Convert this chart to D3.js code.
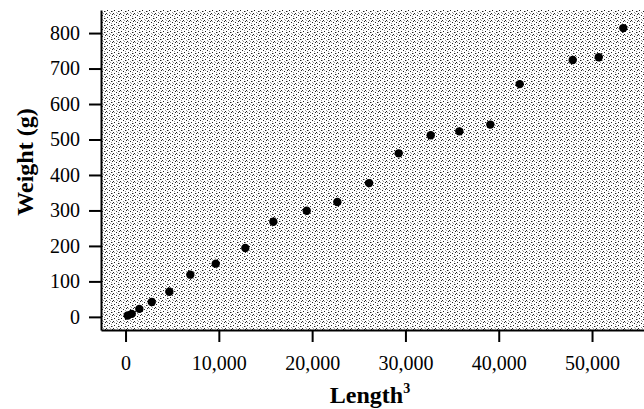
<!DOCTYPE html>
<html>
<head>
<meta charset="utf-8">
<style>
  body { margin: 0; background: #ffffff; }
  text { font-family: "Liberation Serif", "DejaVu Serif", serif; fill: #000000; }
  .tick text { font-size: 20px; }
  .axislabel { font-size: 24px; font-weight: bold; }
</style>
</head>
<body>
<div id="chart"></div>
<script src="https://cdnjs.cloudflare.com/ajax/libs/d3/7.8.5/d3.min.js"></script>
<script>
// length cubed vs weight
var lengthCubed = [236, 665, 1479, 2808, 4695, 6945, 9668, 12840, 15840, 19420,
                   22700, 26100, 29280, 32710, 35780, 39100, 42250, 47930, 50720, 53350];
var weight = [4, 8.5, 22.5, 42, 71, 119, 150, 194, 268, 299,
              324, 377, 461, 512, 523, 542, 656, 724, 732, 814];

var xTicks = [0, 10000, 20000, 30000, 40000, 50000];
var yTicks = [0, 100, 200, 300, 400, 500, 600, 700, 800];

var width = 644, height = 409;
var plotLeft = 101, plotRight = 644, plotTop = 10, plotBottom = 330;

var svg = d3.select("#chart").append("svg")
    .attr("width", width)
    .attr("height", height);

// stipple look of the printed background
var pat = svg.append("defs").append("pattern")
    .attr("id", "stipple")
    .attr("width", 7).attr("height", 7)
    .attr("patternUnits", "userSpaceOnUse");
pat.append("rect").attr("width", 7).attr("height", 7).attr("fill", "#ffffff");
[[0,0],[4,1],[2,3],[6,4],[1,6]].forEach(function(p){
  pat.append("rect").attr("x", p[0]).attr("y", p[1]).attr("width", 1).attr("height", 1).attr("fill", "#222");
});
[[2,0],[6,2],[0,4],[4,5],[5,6]].forEach(function(p){
  pat.append("rect").attr("x", p[0]).attr("y", p[1]).attr("width", 1).attr("height", 1).attr("fill", "#999");
});

var x = d3.scaleLinear().domain([-2630, 55570]).range([plotLeft, plotRight]);
var y = d3.scaleLinear().domain([-37, 865]).range([plotBottom, plotTop]);

svg.append("rect")
    .attr("x", plotLeft).attr("y", plotTop)
    .attr("width", plotRight - plotLeft).attr("height", plotBottom - plotTop)
    .attr("fill", "url(#stipple)");

var xAxis = d3.axisBottom(x)
    .tickValues(xTicks)
    .tickFormat(d3.format(","))
    .tickSize(12).tickSizeOuter(0).tickPadding(14);

var yAxis = d3.axisLeft(y)
    .tickValues(yTicks)
    .tickSize(12).tickSizeOuter(0).tickPadding(9);

var gx = svg.append("g")
    .attr("transform", "translate(0," + plotBottom + ")")
    .call(xAxis);
var gy = svg.append("g")
    .attr("transform", "translate(" + plotLeft + ",0)")
    .call(yAxis);

[gx, gy].forEach(function(g){
  g.attr("font-family", null).attr("font-size", null);
  g.select(".domain").attr("stroke", "#000").attr("stroke-width", 2);
  g.selectAll(".tick line").attr("stroke", "#000").attr("stroke-width", 2);
});

// points
svg.append("g").selectAll("circle")
    .data(lengthCubed)
    .enter().append("circle")
    .attr("cx", function(d){ return x(d); })
    .attr("cy", function(d, i){ return y(weight[i]); })
    .attr("r", 4.2)
    .attr("fill", "#000");

// axis titles
var xl = svg.append("text")
    .attr("class", "axislabel")
    .attr("x", 370).attr("y", 403)
    .attr("text-anchor", "middle");
xl.append("tspan").text("Length");
xl.append("tspan").attr("dy", -10).attr("font-size", 14).text("3");

svg.append("text")
    .attr("class", "axislabel")
    .attr("transform", "translate(33,162) rotate(-90)")
    .attr("text-anchor", "middle")
    .text("Weight (g)");
</script>
</body>
</html>
